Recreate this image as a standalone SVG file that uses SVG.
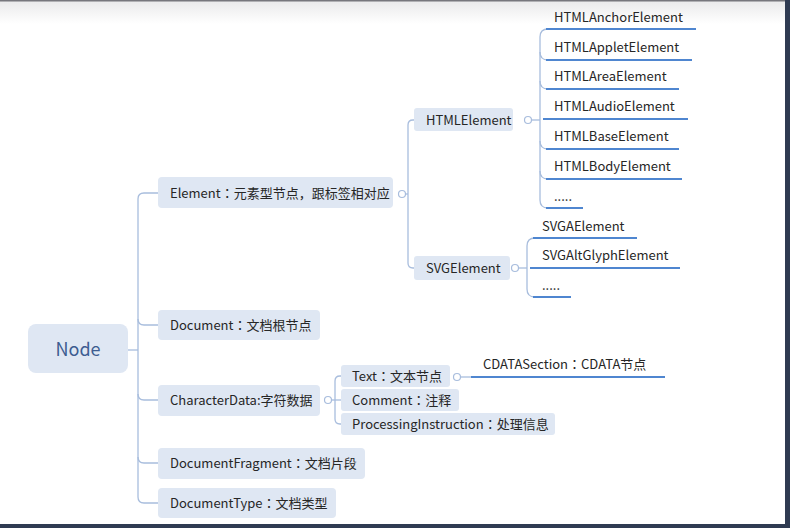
<svg xmlns="http://www.w3.org/2000/svg" width="790" height="528" viewBox="0 0 790 528">
<defs>
<linearGradient id="topg" x1="0" y1="0" x2="0" y2="1">
<stop offset="0" stop-color="#e9e9ea"/>
<stop offset="1" stop-color="#ffffff"/>
</linearGradient>
<style>
text{font-family:"Noto Sans CJK SC","Liberation Sans",sans-serif;font-size:13px;fill:#262626}
.c{font-family:"Noto Sans CJK JP","Noto Sans CJK SC",sans-serif}
.box{fill:#dfe7f3;stroke:none}
.conn{fill:none;stroke:#a8bddd;stroke-width:1.3}
.ul{fill:none;stroke:#4f86d0;stroke-width:2}
.knob{fill:#fff;stroke:#a8bddd;stroke-width:1.2}
.root{font-size:18px;fill:#3d5d91}
</style>
</defs>
<rect x="0" y="0" width="790" height="528" fill="#ffffff"/>
<rect x="0" y="0" width="790" height="24" fill="url(#topg)"/>
<rect x="0" y="0" width="790" height="1.5" fill="#77777d"/>
<rect x="785" y="0" width="5" height="528" fill="#2f3b52"/>
<rect x="0" y="524" width="790" height="4" fill="#2f3b52"/>

<g id="connectors">
<path class="conn" d="M128,350 H138"/>
<path class="conn" d="M158,193 H144 Q138,193 138,199 V497 Q138,503 144,503 H158"/>
<path class="conn" d="M138,319 Q138,325 144,325 H158"/>
<path class="conn" d="M138,394 Q138,400 144,400 H158"/>
<path class="conn" d="M138,457 Q138,463 144,463 H158"/>
<path class="conn" d="M405.5,194 H408"/>
<path class="conn" d="M414,120 H413 Q408,120 408,125 V263 Q408,268 413,268 H414"/>
<circle class="knob" cx="402" cy="194" r="3.5"/>
<path class="conn" d="M531.5,120 H540"/>
<path class="conn" d="M548,29 Q540,29 540,37 V200 Q540,208 548,208"/>
<path class="conn" d="M540,52 Q540,60 548,60"/>
<path class="conn" d="M540,81 Q540,89 548,89"/>
<path class="conn" d="M540,141 Q540,149 548,149"/>
<path class="conn" d="M540,171 Q540,179 548,179"/>
<circle class="knob" cx="528" cy="120" r="3.5"/>
<path class="ul" d="M546,29 H696"/>
<path class="ul" d="M546,60 H692"/>
<path class="ul" d="M546,89 H679"/>
<path class="ul" d="M543,119 H688"/>
<path class="ul" d="M546,149 H679"/>
<path class="ul" d="M546,179 H682"/>
<path class="ul" d="M546,208 H583"/>
<path class="conn" d="M518.5,268 H527"/>
<path class="conn" d="M535,238 Q527,238 527,246 V289 Q527,297 535,297"/>
<circle class="knob" cx="515" cy="268" r="3.5"/>
<path class="ul" d="M533,238 H637"/>
<path class="ul" d="M530,268 H680"/>
<path class="ul" d="M533,297 H571"/>
<path class="conn" d="M331.5,400 H341"/>
<path class="conn" d="M341,376 H340 Q335,376 335,381 V419 Q335,424 340,424 H341"/>
<circle class="knob" cx="328" cy="400" r="3.5"/>
<path class="conn" d="M460.5,377 H472"/>
<circle class="knob" cx="457" cy="377" r="3.5"/>
<path class="ul" d="M471,377 H665"/>
</g>

<g id="node-root">
<rect class="box" x="28" y="324" width="100" height="49" rx="8"/>
<text class="root" x="78" y="356" text-anchor="middle">Node</text>
</g>
<g id="node-element">
<rect class="box" x="158" y="177" width="235" height="31" rx="4"/>
<text x="170" y="198">Element<tspan class="c">：</tspan>元素型节点，跟标签相对应</text>
</g>
<g id="node-document">
<rect class="box" x="158" y="310" width="162" height="30" rx="4"/>
<text x="170" y="330">Document<tspan class="c">：</tspan>文档根节点</text>
</g>
<g id="node-characterdata">
<rect class="box" x="158" y="385" width="162" height="31" rx="4"/>
<text x="170" y="405">CharacterData:字符数据</text>
</g>
<g id="node-documentfragment">
<rect class="box" x="158" y="448" width="207" height="31" rx="4"/>
<text x="170" y="468">DocumentFragment<tspan class="c">：</tspan>文档片段</text>
</g>
<g id="node-documenttype">
<rect class="box" x="158" y="488" width="178" height="30" rx="4"/>
<text x="170" y="508">DocumentType<tspan class="c">：</tspan>文档类型</text>
</g>
<g id="node-htmlelement">
<rect class="box" x="414" y="108" width="99" height="23" rx="3"/>
<text x="426" y="125">HTMLElement</text>
</g>
<g id="node-svgelement">
<rect class="box" x="414" y="256" width="96" height="24" rx="3"/>
<text x="426" y="273">SVGElement</text>
</g>
<g id="node-text">
<rect class="box" x="341" y="365" width="109" height="22" rx="3"/>
<text x="352" y="381">Text<tspan class="c">：</tspan>文本节点</text>
</g>
<g id="node-comment">
<rect class="box" x="341" y="389" width="118" height="22" rx="3"/>
<text x="352" y="405">Comment<tspan class="c">：</tspan>注释</text>
</g>
<g id="node-processinginstruction">
<rect class="box" x="341" y="413" width="214" height="22" rx="3"/>
<text x="352" y="429">ProcessingInstruction<tspan class="c">：</tspan>处理信息</text>
</g>
<g id="node-html-anchor"><text x="554" y="22">HTMLAnchorElement</text></g>
<g id="node-html-applet"><text x="554" y="52">HTMLAppletElement</text></g>
<g id="node-html-area"><text x="554" y="81">HTMLAreaElement</text></g>
<g id="node-html-audio"><text x="554" y="111">HTMLAudioElement</text></g>
<g id="node-html-base"><text x="554" y="141">HTMLBaseElement</text></g>
<g id="node-html-body"><text x="554" y="171">HTMLBodyElement</text></g>
<g id="node-html-more"><text x="554" y="201">.....</text></g>
<g id="node-svg-a"><text x="542" y="231">SVGAElement</text></g>
<g id="node-svg-altglyph"><text x="542" y="260">SVGAltGlyphElement</text></g>
<g id="node-svg-more"><text x="542" y="290">.....</text></g>
<g id="node-cdata"><text x="483" y="369">CDATASection<tspan class="c">：</tspan>CDATA节点</text></g>
</svg>
